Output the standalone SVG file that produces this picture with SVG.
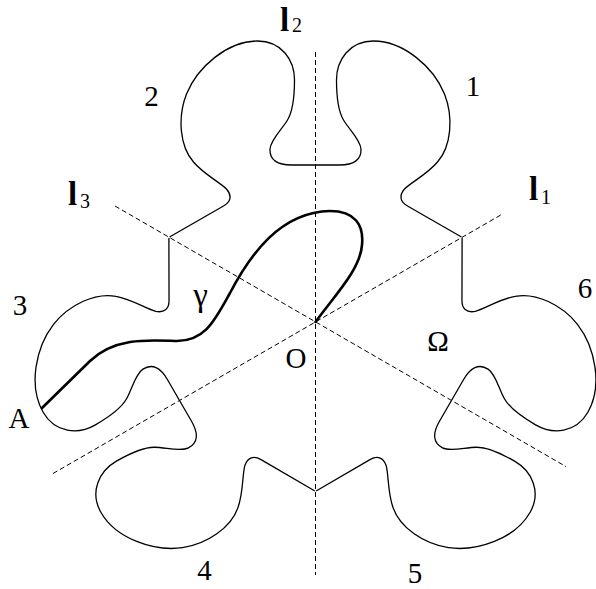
<svg xmlns="http://www.w3.org/2000/svg" xmlns:xlink="http://www.w3.org/1999/xlink" width="596" height="589" viewBox="0 0 596 589">
<style>
.axis{fill:none;stroke:#000;stroke-width:1;stroke-dasharray:5,3}
.bd{fill:none;stroke:#000;stroke-width:1.3;stroke-linejoin:round}
.gam{fill:none;stroke:#000;stroke-width:2.6;stroke-linecap:round}
.t{font-size:29px;fill:#000}
.g{font-size:33px;fill:#000}
.lb{font-size:33px;font-weight:bold;fill:#000}
.sub{font-size:20px;fill:#000}
</style>
<defs>
<path id="half" d="M 0,-157 L 24,-157 C 38,-157 46,-162 45.5,-173 C 45,-182 34,-192 28,-202 C 22,-212 21,-232 21,-242 C 21,-262 34,-281 58,-281 C 88,-281 118,-255 129,-228 C 138,-205 136,-176 122,-160 C 112,-148 96,-140 89,-133 C 83,-126 85,-120 92,-116 L 146,-85"/>
</defs>
<g id="axes">
<line class="axis" x1="315.5" y1="52" x2="315.5" y2="575"/>
<line class="axis" x1="53" y1="473.5" x2="503" y2="213.7"/>
<line class="axis" x1="115" y1="206" x2="566" y2="466.6"/>
</g>
<g id="domain" class="bd" transform="translate(315.5,322)">
<use xlink:href="#half"/>
<use xlink:href="#half" transform="scale(-1,1)"/>
<use xlink:href="#half" transform="rotate(120)"/>
<use xlink:href="#half" transform="rotate(120) scale(-1,1)"/>
<use xlink:href="#half" transform="rotate(240)"/>
<use xlink:href="#half" transform="rotate(240) scale(-1,1)"/>
</g>
<g id="gamma">
<path class="gam" d="M 42,408 L 90,361 C 115,337 150,340 175,341 C 205,342 215,320 230,293 C 250,255 280,212 330,211 C 355,211 364,225 362,245 C 360,270 335,295 315.5,322"/>
</g>
<g id="labels" font-family="Liberation Serif, serif">
<text class="lb" x="280" y="31">l</text><text class="sub" x="292" y="32">2</text>
<text class="lb" x="68" y="205">l</text><text class="sub" x="80" y="208">3</text>
<text class="lb" x="529" y="200">l</text><text class="sub" x="541" y="204">1</text>
<text class="t" x="473" y="96" text-anchor="middle">1</text>
<text class="t" x="151.5" y="106" text-anchor="middle">2</text>
<text class="t" x="20" y="315" text-anchor="middle">3</text>
<text class="t" x="204.5" y="580" text-anchor="middle">4</text>
<text class="t" x="415" y="583" text-anchor="middle">5</text>
<text class="t" x="585" y="298" text-anchor="middle">6</text>
<text class="t" x="19" y="428" text-anchor="middle">A</text>
<text class="t" x="296" y="368" text-anchor="middle">O</text>
<text class="t" x="438" y="351" text-anchor="middle">Ω</text>
<text class="g" x="200.5" y="306" text-anchor="middle">γ</text>
</g>
</svg>
